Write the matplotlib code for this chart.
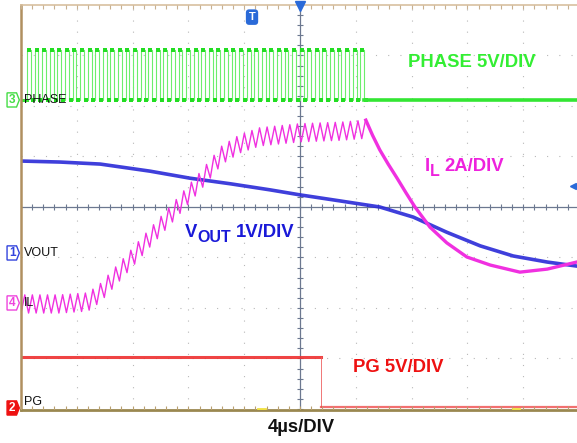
import numpy as np
import matplotlib.pyplot as plt
from matplotlib.patches import Polygon
from matplotlib.transforms import offset_copy

plt.rcParams['font.family'] = ['Liberation Sans', 'DejaVu Sans']

# all values in scope divisions (x: 4us/div, y: per channel scale)
# PHASE switch node
phase_high = 3.11
phase_low = 2.12
sw_period = 0.1357
sw_start = -4.89
sw_stop = 1.18

# VOUT trace
vout_t = [-5.0, -4.3, -3.58, -2.69, -1.97, -1.25, -0.54, 0.0, 0.72, 1.43, 2.03, 2.63, 3.23, 3.82, 4.43, 4.96]
vout_v = [0.91, 0.89, 0.85, 0.71, 0.57, 0.46, 0.34, 0.24, 0.12, 0.0, -0.20, -0.50, -0.77, -0.97, -1.09, -1.17]

# IL while switching (mean) and ripple
il_sw_t = [-5.0, -4.3, -3.8, -3.58, -3.14, -2.69, -2.24, -1.79, -1.40, -1.08, -0.72, 0.0, 0.72, 1.18]
il_sw_v = [-1.92, -1.92, -1.88, -1.70, -1.17, -0.61, -0.06, 0.51, 1.03, 1.25, 1.39, 1.47, 1.50, 1.54]
il_ripple = 0.36
# IL after switching stops
il_off_t = [1.18, 1.30, 1.43, 1.58, 1.74, 1.90, 2.06, 2.33, 2.63, 2.99, 3.41, 3.94, 4.43, 4.96]
il_off_v = [1.72, 1.42, 1.13, 0.85, 0.57, 0.28, 0.0, -0.40, -0.71, -0.99, -1.15, -1.29, -1.23, -1.09]

# PG
pg_high = -2.97
pg_low = -3.96
pg_fall = 0.376

# channel ground markers
ch_names = ['PHASE', 'VOUT', 'IL', 'PG']
ch_nums = ['3', '1', '4', '2']
ch_levels = [2.12, -0.91, -1.90, -3.98]
ch_colors = ['#44dd44', '#3344dd', '#ee44dd', '#ee1111']

x_min, x_max = -5.0, 4.964
y_min, y_max = -4.02, 4.0

fig = plt.figure(figsize=(5.77, 4.43), dpi=100)
ax = fig.add_axes([21 / 577, 33 / 443, 556 / 577, 405 / 443])
ax.set_xlim(x_min, x_max)
ax.set_ylim(y_min, y_max)
ax.axis('off')

# dotted graticule
for gx in range(-4, 5):
    if gx != 0:
        ax.plot([gx, gx], [y_min, y_max], color='#b8b8b8', lw=0.8, ls=(0, (1, 9)), zorder=1)
for gy in range(-3, 4):
    if gy != 0:
        ax.plot([x_min, x_max], [gy, gy], color='#b8b8b8', lw=0.8, ls=(0, (1, 10)), zorder=1)

# centre axes with minor ticks
ax.plot([x_min, x_max], [0, 0], color='#6c7890', lw=0.9, zorder=2)
ax.plot([0, 0], [y_min, y_max], color='#6c7890', lw=0.9, zorder=2)
mx = np.arange(-5, 5.01, 0.2)
my = np.arange(-4, 4.01, 0.2)
ax.vlines(mx, -0.06, 0.06, color='#6c7890', lw=0.8, zorder=2)
ax.hlines(my, -0.05, 0.05, color='#6c7890', lw=0.8, zorder=2)

# frame (left, top, bottom)
ax.plot([x_min, x_min], [y_min, y_max], color='#b09060', lw=1.8, zorder=6, clip_on=False)
ax.plot([x_min, x_max], [y_max, y_max], color='#d8c0a0', lw=1.2, zorder=6, clip_on=False)
ax.vlines(mx, y_max - 0.07, y_max, color='#c8b090', lw=0.8, zorder=6)
ax.plot([x_min, x_max], [y_min, y_min], color='#9a8850', lw=2.0, zorder=6, clip_on=False)
ax.vlines(mx, y_min, y_min + 0.07, color='#b8a070', lw=0.8, zorder=6)
ax.plot([-0.75, -0.62], [y_min + 0.02, y_min + 0.02], color='#f0e040', lw=2.0, zorder=7)
ax.plot([3.82, 3.93], [y_min + 0.02, y_min + 0.02], color='#f0e040', lw=2.0, zorder=7)

# PHASE trace
edges = np.arange(sw_start, sw_stop, sw_period)
px, py = [x_min, sw_start], [phase_low, phase_low]
for e in edges:
    px += [e, e, e + sw_period / 2, e + sw_period / 2]
    py += [phase_low, phase_high, phase_high, phase_low]
ax.plot(px, py, color='#6cee6c', lw=0.8, zorder=3)
ax.plot(edges + sw_period / 4, np.full(len(edges), phase_high), 's', color='#22dd22', ms=2.4, mew=0, zorder=3)
ax.plot(edges + sw_period * 0.75, np.full(len(edges), phase_low), 's', color='#22dd22', ms=2.4, mew=0, zorder=3)
ax.plot([x_min, sw_start], [phase_low, phase_low], color='#33e633', lw=2.2, zorder=3)
ax.plot([edges[-1] + sw_period / 2, x_max], [phase_low, phase_low], color='#33e633', lw=2.6, zorder=3)

# VOUT trace
ax.plot(vout_t, vout_v, color='#2a2ad8', lw=2.6, alpha=0.9, zorder=4, solid_joinstyle='round')

# IL trace
rt = np.arange(x_min, sw_stop + 1e-9, sw_period / 2)
rv = np.interp(rt, il_sw_t, il_sw_v) + np.where(np.arange(len(rt)) % 2 == 0, -il_ripple / 2, il_ripple / 2)
ax.plot(rt, rv, color='#f030e0', lw=1.0, zorder=5)
ax.plot(il_off_t, il_off_v, color='#f030e0', lw=2.4, zorder=5, solid_joinstyle='round')

# PG trace
ax.plot([x_min, pg_fall], [pg_high, pg_high], color='#ee3030', lw=2.2, alpha=0.9, zorder=3)
ax.plot([pg_fall, pg_fall], [pg_high, pg_low], color='#ee6060', lw=0.6, zorder=3)
ax.plot([pg_fall, x_max], [pg_low, pg_low], color='#ee4040', lw=1.6, alpha=0.75, zorder=3)

# channel markers
for name, num, lvl, col in zip(ch_names, ch_nums, ch_levels, ch_colors):
    x0, x1 = -5.25, -5.03
    poly = Polygon([[x0, lvl - 0.14], [x1 - 0.05, lvl - 0.14], [x1, lvl], [x1 - 0.05, lvl + 0.14], [x0, lvl + 0.14]],
                   closed=True, clip_on=False, zorder=8,
                   facecolor=col if num == '2' else 'white', edgecolor=col, lw=1.0)
    ax.add_patch(poly)
    ax.text((x0 + x1) / 2 - 0.02, lvl, num, color='white' if num == '2' else col,
            fontsize=8.5, fontweight='bold', ha='center', va='center', clip_on=False, zorder=9)
    ax.text(-4.95, lvl + (0.12 if num == '2' else 0), name, color='#111111', fontsize=9,
            ha='left', va='center', zorder=9)

# trigger markers
ax.plot([0], [y_max - 0.02], 'v', color='#2a6ad8', ms=7, clip_on=False, zorder=9)
ax.text(-0.86, 3.76, 'T', color='white', fontsize=8, fontweight='bold', ha='center', va='center',
        bbox=dict(boxstyle='round,pad=0.25,rounding_size=0.3', fc='#2a6ad8', ec='none'), zorder=9)
ax.plot([4.90], [0.42], '<', color='#2a6ad8', ms=4.5, clip_on=False, zorder=9)


def sub_label(x, y, main, sub, rest, color):
    # main letter, larger-than-mathtext subscript, then the scale text
    fig.canvas.draw()
    r = fig.canvas.get_renderer()
    t1 = ax.text(x, y, main, color=color, fontsize=13.3, fontweight='bold', ha='left', va='center', zorder=9)
    w1 = t1.get_window_extent(r).width
    tr = offset_copy(ax.transData, fig=fig, x=w1, y=-5, units='dots')
    t2 = ax.text(x, y, sub, color=color, fontsize=11.5, fontweight='bold', ha='left', va='center',
                 transform=tr, zorder=9)
    w2 = t2.get_window_extent(r).width
    tr2 = offset_copy(ax.transData, fig=fig, x=w1 + w2 + 5, y=0, units='dots')
    ax.text(x, y, rest, color=color, fontsize=13.3, fontweight='bold', ha='left', va='center',
            transform=tr2, zorder=9)


# channel scale labels
ax.text(1.935, 2.87, 'PHASE 5V/DIV', color='#33ee33', fontsize=13.3, fontweight='bold', ha='left', va='center', zorder=9)
sub_label(2.24, 0.81, 'I', 'L', '2A/DIV', '#ee22dd')
sub_label(-2.06, -0.51, 'V', 'OUT', '1V/DIV', '#1a1ad8')
ax.text(0.95, -3.17, 'PG 5V/DIV', color='#ee1111', fontsize=13.3, fontweight='bold', ha='left', va='center', zorder=9)

fig.text(301 / 577, 15 / 443, '4µs/DIV', color='#111111', fontsize=13.3, fontweight='bold', ha='center', va='center')

fig.savefig('out.png', dpi=100)
